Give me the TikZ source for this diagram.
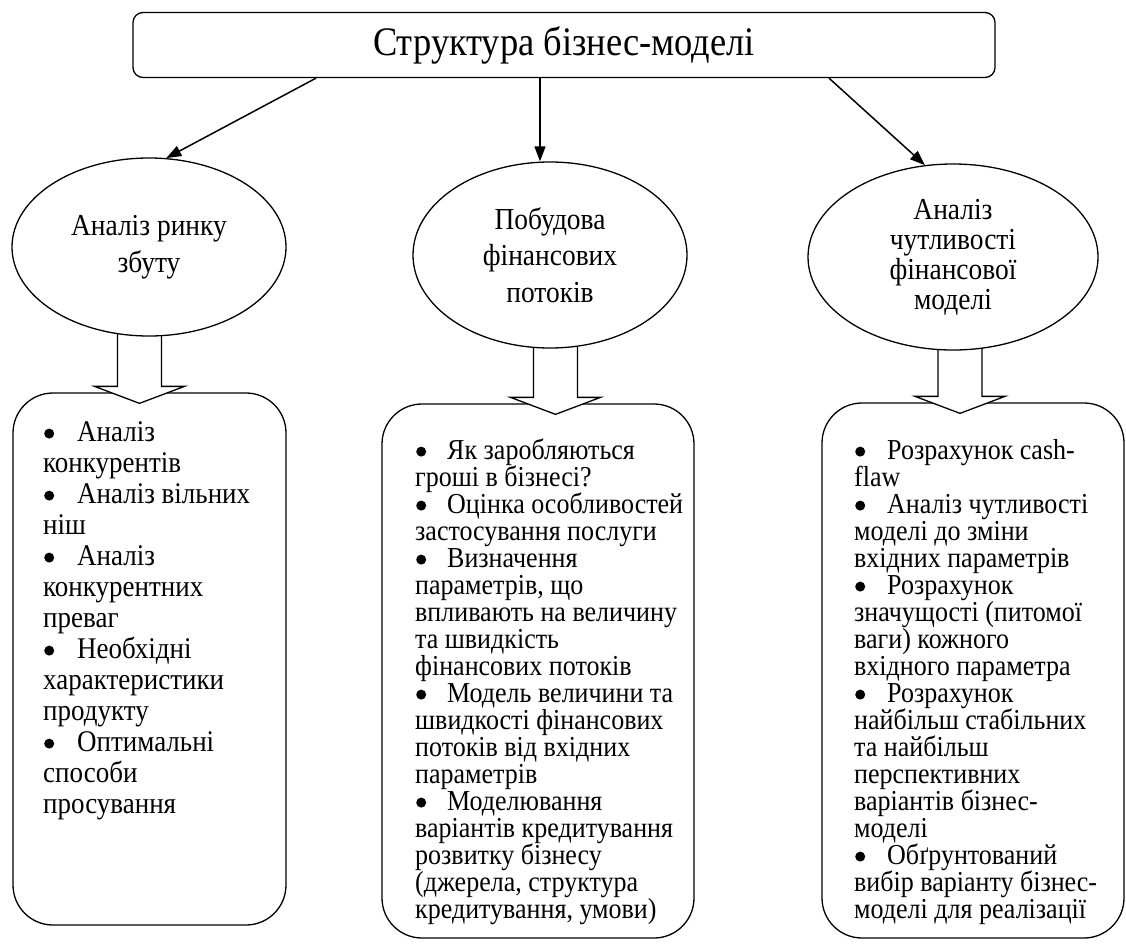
\documentclass[tikz,border=0pt]{standalone}
\usepackage{fontspec}
\setmainfont[FakeStretch=0.9]{Liberation Serif}
\usetikzlibrary{shapes.geometric,arrows.meta,calc}
\pgfdeclarelayer{bg}
\pgfdeclarelayer{mid}
\pgfsetlayers{bg,mid,main}
\newcommand\bul[1]{\makebox[#1][l]{\kern1pt\rule{0pt}{1pt}\raisebox{2.4pt}{\tikz\fill (0pt,0pt) circle[radius=5pt];}}}
\newcommand\blockarrow[3]{%
  \coordinate (#1top) at ($(#1.south)+(#3,0)$);
  \coordinate (#1bot) at (#1top |- #2.north);
  \begin{pgfonlayer}{mid}
  \filldraw[blk] ($(#1top)+(-22,-4)$) -- ($(#1bot)+(-22,-6)$) -- ($(#1bot)+(-45,-6)$)
    -- ($(#1bot)+(0,11)$) -- ($(#1bot)+(45,-6)$) -- ($(#1bot)+(22,-6)$) -- ($(#1top)+(22,-4)$);
  \end{pgfonlayer}}
\begin{document}
\begin{tikzpicture}[x=1pt,y=-1pt,
  shp/.style={draw, line width=1.3pt, fill=white},
  ttl/.style={shp, rectangle, rounded corners=10pt, minimum width=862pt, minimum height=65pt, inner sep=0pt, font=\fontsize{40.5}{44}\selectfont},
  ell/.style={shp, ellipse, inner sep=0pt, align=center},
  lst/.style={shp, rectangle, rounded corners=40pt, inner sep=0pt},
  txt/.style={anchor=base west, inner sep=0pt},
  arr/.style={line width=1.5pt, -{Triangle[length=15pt,width=11pt]}},
  blk/.style={line width=1.3pt, fill=white, miter limit=10}
]
\useasboundingbox (0,0) rectangle (1126,945);
\begin{pgfonlayer}{bg}
\fill[white] (0,0) rectangle (1126,945);
\node[lst, minimum width=273pt, minimum height=532pt] (b1) at (149.5,659) {};
\node[lst, minimum width=312pt, minimum height=534pt] (b2) at (538,671) {};
\node[lst, minimum width=302pt, minimum height=535pt] (b3) at (973,670.5) {};
\end{pgfonlayer}

\node[ttl] (title) at (564,45) {Структура бізнес-моделі};

\node[ell, minimum width=274pt, minimum height=178pt, font=\fontsize{30.5}{37}\selectfont] (e1) at (149,247) {Аналіз ринку\\збуту};
\node[ell, minimum width=274pt, minimum height=186pt, font=\fontsize{30.5}{36.5}\selectfont] (e2) at (550,255) {Побудова\\фінансових\\потоків};
\node[ell, minimum width=290pt, minimum height=186pt, font=\fontsize{30.5}{30}\selectfont] (e3) at (953,257) {Аналіз\\чутливості\\фінансової\\моделі};

\coordinate (s1) at ($(title.south)+(-248,0)$);
\coordinate (s2) at ($(title.south)+(-24,0)$);
\coordinate (s3) at ($(title.south)+(265,0)$);
\draw[arr] (s1) -- (e1.79);
\draw[arr] (s2) -- (s2 |- e2.north);
\draw[arr] (s3) -- (e3.107);

\blockarrow{e1}{b1}{-9.5}
\blockarrow{e2}{b2}{5.5}
\blockarrow{e3}{b3}{7}

\node[txt] (t1) at (43,441) {\parbox[t]{240pt}{\fontsize{30}{31}\selectfont\raggedright
\bul{34pt}Аналіз\\
конкурентів\\
\bul{34pt}Аналіз вільних\\
ніш\\
\bul{34pt}Аналіз\\
конкурентних\\
преваг\\
\bul{34pt}Необхідні\\
характеристики\\
продукту\\
\bul{34pt}Оптимальні\\
способи\\
просування}};

\node[txt] (t2) at (415,459) {\parbox[t]{290pt}{\fontsize{28.9}{27}\selectfont\raggedright
\bul{32pt}Як заробляються\\
гроші в бізнесі?\\
\bul{32pt}Оцінка особливостей\\
застосування послуги\\
\bul{32pt}Визначення\\
параметрів, що\\
впливають на величину\\
та швидкість\\
фінансових потоків\\
\bul{32pt}Модель величини та\\
швидкості фінансових\\
потоків від вхідних\\
параметрів\\
\bul{32pt}Моделювання\\
варіантів кредитування\\
розвитку бізнесу\\
(джерела, структура\\
кредитування, умови)}};

\node[txt] (t3) at (854,459) {\parbox[t]{265pt}{\fontsize{28.9}{27}\selectfont\raggedright
\bul{33pt}Розрахунок cash-\\
flaw\\
\bul{33pt}Аналіз чутливості\\
моделі до зміни\\
вхідних параметрів\\
\bul{33pt}Розрахунок\\
значущості (питомої\\
ваги) кожного\\
вхідного параметра\\
\bul{33pt}Розрахунок\\
найбільш стабільних\\
та найбільш\\
перспективних\\
варіантів бізнес-\\
моделі\\
\bul{33pt}Обґрунтований\\
вибір варіанту бізнес-\\
моделі для реалізації}};
\end{tikzpicture}
\end{document}
